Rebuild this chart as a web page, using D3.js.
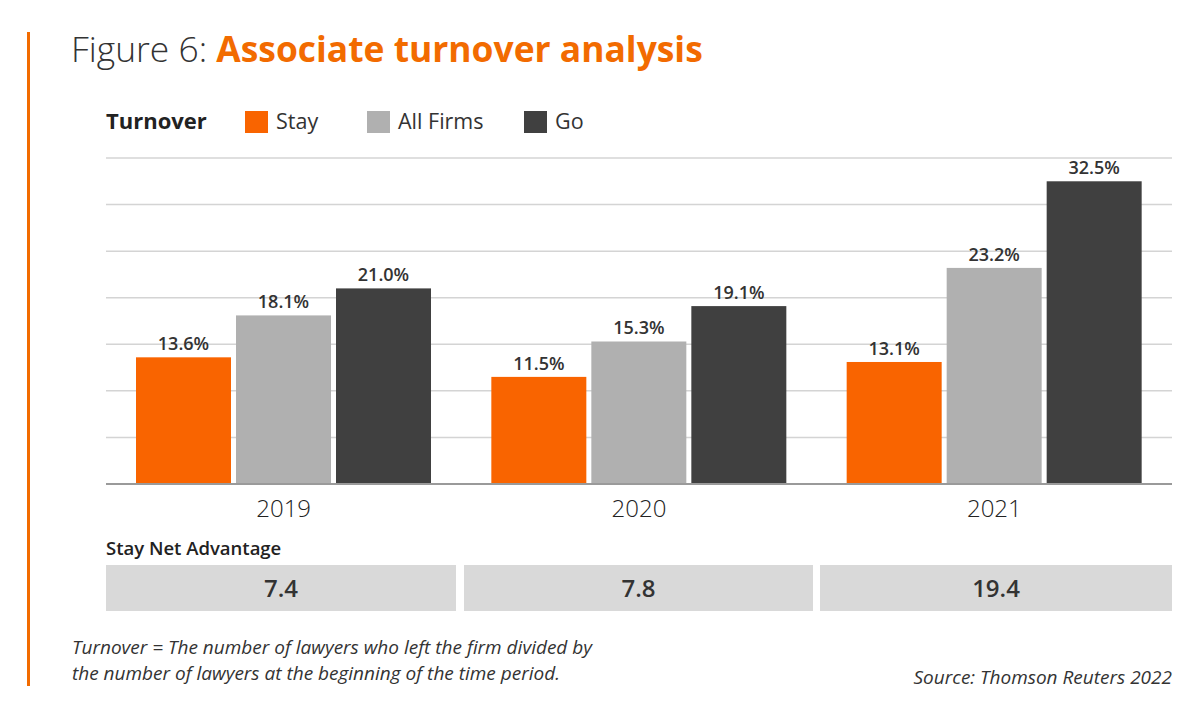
<!DOCTYPE html>
<html><head><meta charset="utf-8">
<script src="https://cdn.jsdelivr.net/npm/d3@7/dist/d3.min.js"></script>
<style>body{margin:0;background:#fff;} svg{display:block;}</style>
</head><body>
<script>
const years = ["2019","2020","2021"];
const seriesNames = ["Stay","All Firms","Go"];
const stayValues = [13.6, 11.5, 13.1];
const allFirmsValues = [18.1, 15.3, 23.2];
const goValues = [21.0, 19.1, 32.5];
const netAdvantage = ["7.4","7.8","19.4"];
const yTicks = [0,5,10,15,20,25,30,35];

const colors = {"Stay":"#f96400","All Firms":"#b0b0b0","Go":"#404040"};
const W=1200,H=724;
const svg=d3.select("body").append("svg").attr("width",W).attr("height",H);
const FONT="'Open Sans', 'Noto Sans', sans-serif";

// left orange rule
svg.append("rect").attr("x",27).attr("y",32).attr("width",3).attr("height",654).attr("fill","#f26b00");

// title
const t=svg.append("text").attr("x",71).attr("y",62).attr("font-family",FONT).attr("font-size",35.4);
t.append("tspan").attr("font-weight",300).attr("fill","#333").text("Figure 6: ");
t.append("tspan").attr("font-weight",700).attr("fill","#f26b00").text("Associate turnover analysis");

// legend
svg.append("text").attr("x",106).attr("y",129).attr("font-family",FONT).attr("font-size",22).attr("font-weight",700).attr("fill","#222").text("Turnover");
const legX=[245,367,524];
seriesNames.forEach((s,i)=>{
  svg.append("rect").attr("x",legX[i]).attr("y",111).attr("width",23).attr("height",22).attr("fill",colors[s]);
  svg.append("text").attr("x",legX[i]+31).attr("y",129).attr("font-family",FONT).attr("font-size",21.5).attr("font-weight",400).attr("fill","#333").text(s);
});

const x0=d3.scaleBand().domain(years).range([106,1172]).paddingInner(0).paddingOuter(0);
const x1=d3.scaleBand().domain(seriesNames).range([30,325]).paddingInner(0.05);
const y=d3.scaleLinear().domain([0,35]).range([484,158]);

// gridlines
const g=svg.append("g");
g.selectAll("line.grid").data(yTicks.slice(1)).join("line")
  .attr("x1",106).attr("x2",1172).attr("y1",d=>y(d)).attr("y2",d=>y(d))
  .attr("stroke","#d4d4d4").attr("stroke-width",1.5);

const data=years.map((yr,i)=>({year:yr,vals:[
  {k:"Stay",v:stayValues[i]},{k:"All Firms",v:allFirmsValues[i]},{k:"Go",v:goValues[i]}]}));

const grp=svg.selectAll("g.grp").data(data).join("g").attr("transform",d=>`translate(${x0(d.year)},0)`);
grp.selectAll("rect").data(d=>d.vals).join("rect")
  .attr("x",d=>x1(d.k)).attr("width",x1.bandwidth())
  .attr("y",d=>y(d.v)).attr("height",d=>y(0)-y(d.v)).attr("fill",d=>colors[d.k]);
grp.selectAll("text.lbl").data(d=>d.vals).join("text")
  .attr("x",d=>x1(d.k)+x1.bandwidth()/2).attr("y",d=>y(d.v)-7)
  .attr("text-anchor","middle").attr("font-family",FONT).attr("font-size",18).attr("font-weight",600).attr("fill","#333")
  .text(d=>d.v.toFixed(1)+"%");

// axis baseline
svg.append("line").attr("x1",106).attr("x2",1172).attr("y1",484).attr("y2",484).attr("stroke","#9a9a9a").attr("stroke-width",2);

// x axis labels
const xAxis=d3.axisBottom(x0).tickSize(0).tickPadding(0);
const ax=svg.append("g").attr("transform","translate(0,484)").call(xAxis);
ax.select(".domain").remove();
ax.selectAll("text").attr("font-family",FONT).attr("font-size",24).attr("font-weight",300).attr("fill","#222").attr("dy",0).attr("y",33);

// Stay net advantage
svg.append("text").attr("x",106).attr("y",555).attr("font-family",FONT).attr("font-size",18.5).attr("font-weight",600).attr("fill","#222").text("Stay Net Advantage");
const boxes=[[106,456],[464,813],[820,1172]];
years.forEach((yr,i)=>{
  svg.append("rect").attr("x",boxes[i][0]).attr("y",565).attr("width",boxes[i][1]-boxes[i][0]).attr("height",46).attr("fill","#d9d9d9");
  svg.append("text").attr("x",(boxes[i][0]+boxes[i][1])/2).attr("y",597).attr("text-anchor","middle")
    .attr("font-family",FONT).attr("font-size",24).attr("font-weight",600).attr("fill","#333").text(netAdvantage[i]);
});

// footnotes
const fn=svg.append("text").attr("font-family",FONT).attr("font-size",19).attr("font-style","italic").attr("font-weight",400).attr("fill","#333");
fn.append("tspan").attr("x",72).attr("y",654).text("Turnover = The number of lawyers who left the firm divided by");
fn.append("tspan").attr("x",72).attr("y",680).text("the number of lawyers at the beginning of the time period.");
svg.append("text").attr("x",1172).attr("y",684).attr("text-anchor","end").attr("font-family",FONT).attr("font-size",19).attr("font-style","italic").attr("font-weight",400).attr("fill","#333").text("Source: Thomson Reuters 2022");
</script>
</body></html>
